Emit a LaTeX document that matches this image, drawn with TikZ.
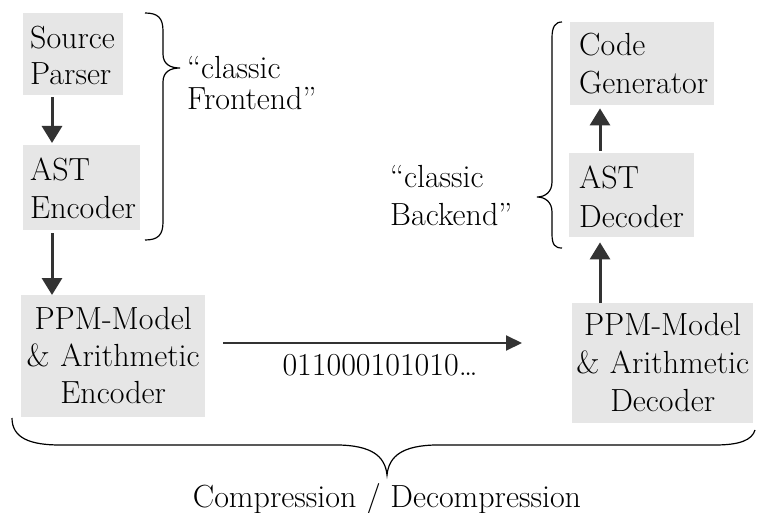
\documentclass[tikz,border=0pt]{standalone}
\usetikzlibrary{arrows.meta}
\definecolor{boxgray}{HTML}{E6E6E6}
\definecolor{arrgray}{HTML}{333333}
\newcommand{\fs}[1]{\fontsize{32}{#1}\selectfont\hyphenpenalty=10000\exhyphenpenalty=10000}
\tikzset{
  box/.style={fill=boxgray, anchor=north west, inner ysep=0pt},
  lbl/.style={anchor=north west, inner sep=0pt, align=left},
  varr/.style={draw=arrgray, line width=3pt, -{Triangle[width=20pt,length=17pt]}},
  harr/.style={draw=arrgray, line width=2pt, -{Triangle[width=15pt,length=16pt]}},
  brc/.style={draw=black, line width=1.2pt},
}
\begin{document}
\begin{tikzpicture}[x=1pt,y=-1pt]
\useasboundingbox (0,0) rectangle (757,513);
% boxes
\node[box, inner xsep=7pt, text width=86pt, align=left, font=\fs{36}] (src) at (23,13)
  {\rule{0pt}{35pt}Source\\Parser\rule[-11pt]{0pt}{11pt}};
\node[box, inner xsep=7pt, text width=103pt, align=left, font=\fs{38}] (aste) at (23,145)
  {\rule{0pt}{35pt}AST\\Encoder\rule[-12pt]{0pt}{12pt}};
\node[box, inner xsep=2pt, text width=180pt, align=center, font=\fs{37}] (ppme) at (21,295)
  {\rule{0pt}{34pt}PPM-Model\\ \&~Arithmetic\\ Encoder\rule[-14pt]{0pt}{14pt}};
\node[box, inner xsep=9pt, text width=126pt, align=left, font=\fs{38}] (cg) at (570,22)
  {\rule{0pt}{33pt}Code\\Generator\rule[-12pt]{0pt}{12pt}};
\node[box, inner xsep=10pt, text width=105pt, align=left, font=\fs{39}] (astd) at (569,153)
  {\rule{0pt}{35pt}AST\\Decoder\rule[-10pt]{0pt}{10pt}};
\node[box, inner xsep=2pt, text width=177pt, align=center, font=\fs{38}] (ppmd) at (572,303)
  {\rule{0pt}{32pt}PPM-Model\\ \&~Arithmetic\\ Decoder\rule[-12pt]{0pt}{12pt}};
% labels
\node[lbl, font=\fs{31}] (fe) at (187,53) {\rule{0pt}{25pt}``classic\\Frontend''};
\node[lbl, font=\fs{38}] (be) at (390,162) {\rule{0pt}{25pt}``classic\\Backend''};
\node[anchor=base, inner sep=0pt, font=\fs{36}] (bits) at (380,375) {011000101010\ldots};
\node[anchor=base, inner sep=0pt, font=\fs{36}] (comp) at (387,507) {Compression / Decompression};
% connector coordinates
\coordinate (lx) at (52,0);
\coordinate (rx) at (600,0);
\coordinate (hy) at (0,343);
% arrows
\draw[varr, shorten <=2pt, shorten >=2pt] (src.south -| lx) -- (aste.north -| lx);
\draw[varr, shorten <=3pt] (aste.south -| lx) -- (ppme.north -| lx);
\draw[varr, shorten >=5pt] (ppmd.north -| rx) -- (astd.south -| rx);
\draw[varr, shorten <=2pt, shorten >=3pt] (astd.north -| rx) -- (cg.south -| rx);
\draw[harr, shorten <=18pt, shorten >=50pt] (ppme.east |- hy) -- (ppmd.west |- hy);
% braces
\draw[brc] (145,13) .. controls (158,13) and (163,18) .. (163,31)
  -- (163,54) .. controls (163,64) and (170,68) .. (180,68)
  .. controls (170,68) and (163,72) .. (163,82)
  -- (163,222) .. controls (163,235) and (158,240) .. (145,240);
\draw[brc] (562,22) .. controls (555,22) and (552,27) .. (552,38)
  -- (552,182) .. controls (552,192) and (545,197) .. (537,197)
  .. controls (545,197) and (552,202) .. (552,212)
  -- (552,234) .. controls (552,245) and (555,248) .. (562,248);
\draw[brc] (12,418) .. controls (12,438) and (30,445) .. (60,445)
  -- (340,445) .. controls (370,446) and (385,455) .. (387,475)
  .. controls (389,455) and (404,446) .. (434,445)
  -- (715,445) .. controls (740,445) and (752,440) .. (755,430);
\end{tikzpicture}
\end{document}
